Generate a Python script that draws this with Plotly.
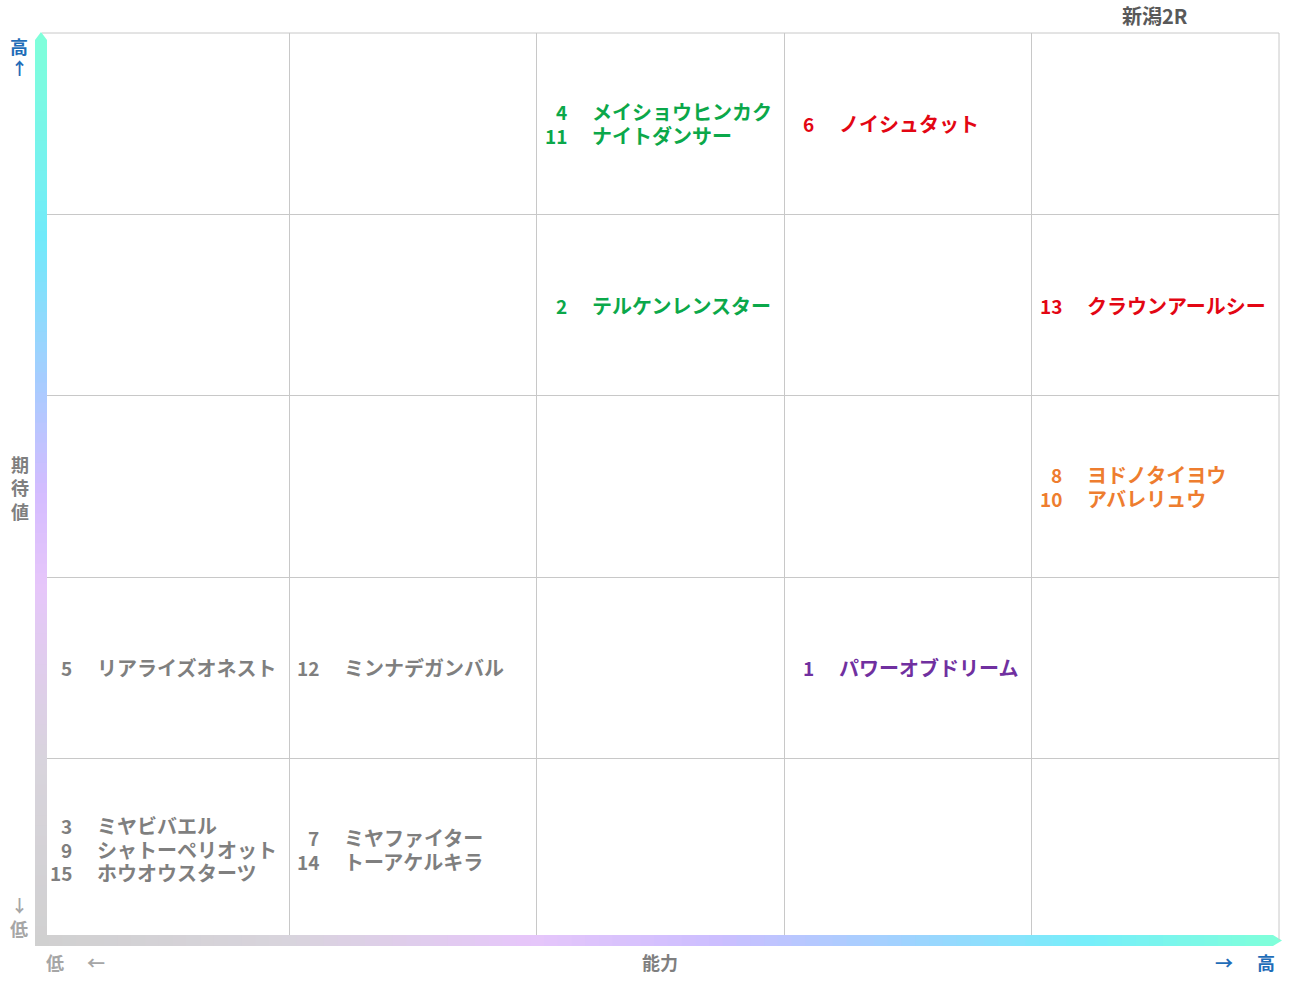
import plotly.graph_objects as go

# ---------------- data ----------------
title_text = "新潟2R"
x_axis_label = "能力"
y_axis_label = "期待値"
n_cols = 5
n_rows = 5

horse_numbers = [4, 11, 6, 2, 13, 8, 10, 5, 12, 1, 3, 9, 15, 7, 14]
horse_names = ["メイショウヒンカク", "ナイトダンサー", "ノイシュタット", "テルケンレンスター",
               "クラウンアールシー", "ヨドノタイヨウ", "アバレリュウ", "リアライズオネスト",
               "ミンナデガンバル", "パワーオブドリーム", "ミヤビバエル", "シャトーペリオット",
               "ホウオウスターツ", "ミヤファイター", "トーアケルキラ"]
ability_col = [2, 2, 3, 2, 4, 4, 4, 0, 1, 3, 0, 0, 0, 1, 1]
expect_row = [4, 4, 4, 3, 3, 2, 2, 1, 1, 1, 0, 0, 0, 0, 0]
mark_group = ["green", "green", "red", "green", "red", "orange", "orange", "gray",
              "gray", "purple", "gray", "gray", "gray", "gray", "gray"]

# ---------------- styles ----------------
W, H = 1291, 983
L, R, T, B = 42, 12, 33, 43
PW, PH = W - L - R, H - T - B
group_color = {"green": "#0BA84A", "red": "#E30613", "orange": "#EE7D2F",
               "purple": "#7030A0", "gray": "#7F7F7F"}
FONT = "Noto Sans CJK JP"
BLUE = "#1F6DB8"
GRAY = "#7F7F7F"
LGRAY = "#A6A6A6"


def pxx(x):
    return (x - L) / PW


def pxy(y):
    return (H - B - y) / PH


fig = go.Figure()
fig.add_trace(go.Scatter(x=[0, n_cols], y=[0, n_rows], mode="markers",
                         marker=dict(opacity=0), hoverinfo="skip", showlegend=False))

annotations = []
cells = {}
for i in range(len(horse_numbers)):
    cells.setdefault((ability_col[i], expect_row[i]), []).append(i)

line_h = 23.5
for (c, r), idxs in cells.items():
    n = len(idxs)
    for k, i in enumerate(idxs):
        ys = ((n - 1) / 2 - k) * line_h
        col = group_color[mark_group[i]]
        annotations.append(dict(x=c, y=r + 0.5, xref="x", yref="y", text=f"<b>{horse_numbers[i]}</b>",
                                xanchor="right", yanchor="middle", xshift=32, yshift=ys, showarrow=False,
                                font=dict(family=FONT, size=19, color=col)))
        annotations.append(dict(x=c, y=r + 0.5, xref="x", yref="y", text=f"<b>{horse_names[i]}</b>",
                                xanchor="left", yanchor="middle", xshift=53, yshift=ys, showarrow=False,
                                font=dict(family=FONT, size=20, color=col)))


def lab(x, y, text, color, size=18):
    annotations.append(dict(x=pxx(x), y=pxy(y), xref="paper", yref="paper", text=f"<b>{text}</b>",
                            xanchor="center", yanchor="middle", showarrow=False,
                            font=dict(family=FONT, size=size, color=color)))


lab(1155, 15, title_text, "#595959", 20)
lab(19, 46, "高", BLUE, 18)
lab(19, 67, "↑", BLUE, 17)
lab(20, 464, y_axis_label[0], GRAY)
lab(20, 487, y_axis_label[1], GRAY)
lab(20, 511, y_axis_label[2], GRAY)
lab(19, 904, "↓", LGRAY, 17)
lab(19, 928, "低", LGRAY)
lab(55, 962, "低", LGRAY)
lab(96, 962, "←", LGRAY)
lab(660, 962, x_axis_label, GRAY)
lab(1224, 962, "→", BLUE)
lab(1266, 962, "高", BLUE)


# ---------------- gradient arrows (decoration) ----------------
def interp(stops, t):
    for j in range(len(stops) - 1):
        t0, c0 = stops[j]
        t1, c1 = stops[j + 1]
        if t0 <= t <= t1:
            f = (t - t0) / (t1 - t0) if t1 > t0 else 0
            a = [int(c0[k:k + 2], 16) for k in (1, 3, 5)]
            b = [int(c1[k:k + 2], 16) for k in (1, 3, 5)]
            return "#%02x%02x%02x" % tuple(round(a[m] + (b[m] - a[m]) * f) for m in range(3))
    return stops[-1][1]


v_stops = [(0.0, "#D0D0D0"), (0.2, "#D8D4DC"), (0.4, "#E6C6FA"), (0.5, "#D4BCFF"),
           (0.62, "#A8CCFF"), (0.78, "#70EAFA"), (1.0, "#7FFFDA")]
h_stops = [(0.0, "#D0D0D0"), (0.2, "#D8D4DC"), (0.4, "#E6C6FA"), (0.55, "#CCBEFF"),
           (0.7, "#A0D2FF"), (0.85, "#76EEFA"), (1.0, "#7FFFDA")]

shapes = []
N = 90
eps = 0.002
vy0, vy1 = 946, 40
for j in range(N):
    ya = vy0 + (vy1 - vy0) * j / N
    yb = vy0 + (vy1 - vy0) * (j + 1) / N
    colr = interp(v_stops, (j + 0.5) / N)
    shapes.append(dict(type="rect", xref="paper", yref="paper", x0=pxx(35), x1=pxx(47),
                       y0=pxy(ya), y1=pxy(yb) + (eps if j < N - 1 else 0), fillcolor=colr,
                       line=dict(width=0), layer="above"))
shapes.append(dict(type="path", xref="paper", yref="paper",
                   path=f"M {pxx(35)},{pxy(40)} L {pxx(41)},{pxy(32)} L {pxx(47)},{pxy(40)} Z",
                   fillcolor=v_stops[-1][1], line=dict(width=0), layer="above"))
hx0, hx1 = 35, 1273
for j in range(N):
    xa = hx0 + (hx1 - hx0) * j / N
    xb = hx0 + (hx1 - hx0) * (j + 1) / N
    colr = interp(h_stops, (j + 0.5) / N)
    shapes.append(dict(type="rect", xref="paper", yref="paper", x0=pxx(xa),
                       x1=pxx(xb) + (eps if j < N - 1 else 0),
                       y0=pxy(946), y1=pxy(935), fillcolor=colr, line=dict(width=0), layer="above"))
shapes.append(dict(type="path", xref="paper", yref="paper",
                   path=f"M {pxx(1273)},{pxy(935)} L {pxx(1282)},{pxy(940.5)} L {pxx(1273)},{pxy(946)} Z",
                   fillcolor=h_stops[-1][1], line=dict(width=0), layer="above"))
shapes.append(dict(type="line", xref="paper", yref="paper", x0=0, x1=1, y0=1, y1=1,
                   line=dict(color="#C8C8C8", width=1)))
shapes.append(dict(type="line", xref="paper", yref="paper", x0=1, x1=1, y0=0, y1=1,
                   line=dict(color="#C8C8C8", width=1)))

fig.update_layout(
    width=W, height=H, margin=dict(l=L, r=R, t=T, b=B),
    plot_bgcolor="white", paper_bgcolor="white",
    xaxis=dict(range=[0, n_cols], dtick=1, tick0=0, showgrid=True, gridcolor="#C8C8C8", gridwidth=1,
               showticklabels=False, zeroline=False, ticks="", fixedrange=True),
    yaxis=dict(range=[0, n_rows], dtick=1, tick0=0, showgrid=True, gridcolor="#C8C8C8", gridwidth=1,
               showticklabels=False, zeroline=False, ticks="", fixedrange=True),
    annotations=annotations, shapes=shapes, showlegend=False,
)
fig.write_html("out.html", config={"displayModeBar": False},
               post_script="document.body.style.margin='0';document.body.style.overflow='hidden';")
